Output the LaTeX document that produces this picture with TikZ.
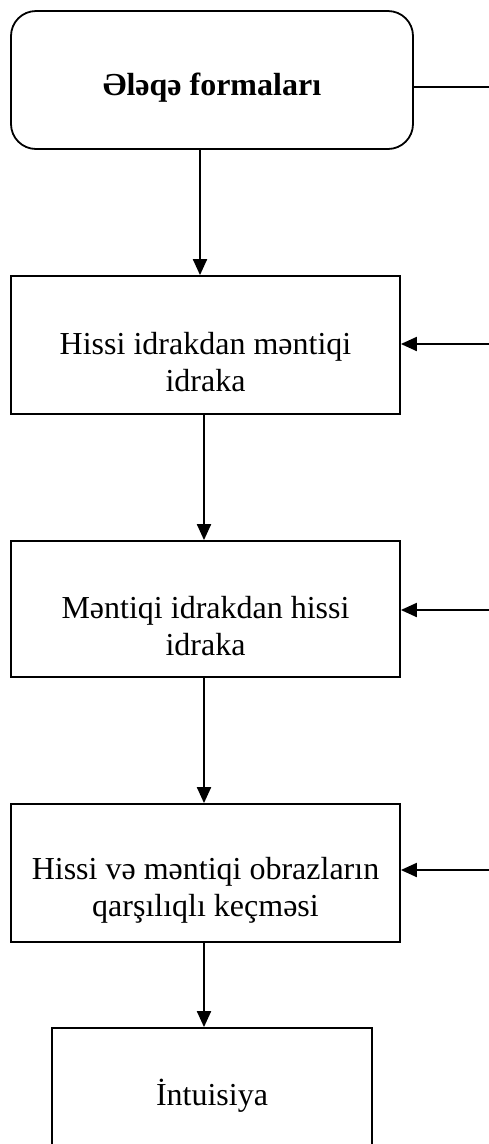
\documentclass[tikz,border=0pt]{standalone}
\usepackage{fontspec}
\setmainfont{Liberation Serif}
\usetikzlibrary{arrows.meta}
\begin{document}
\begin{tikzpicture}[x=1pt,y=-1pt,
  box/.style={draw, line width=1.8pt, minimum width=389pt, minimum height=138pt, inner sep=0pt},
  txt/.style={align=center, font=\fontsize{32}{36.8}\selectfont, inner sep=0pt},
  arr/.style={line width=2pt, -{Triangle[length=16pt,width=14pt]}},
  ln/.style={line width=2pt}]
\useasboundingbox (0,0) rectangle (489,1144);
\node[box, rounded corners=25pt, minimum width=402pt] (top) at (212,80) {};
\node[txt, font=\fontsize{32}{36.8}\selectfont\bfseries] (t1) at ([yshift=-8pt]top.center) {Ələqə formaları};
\node[box] (b2) at (205.5,345) {};
\node[txt] (t2) at ([yshift=-17pt]b2.center) {Hissi idrakdan məntiqi\\idraka};
\node[box, minimum height=136pt] (b3) at (205.5,609) {};
\node[txt] (t3) at ([yshift=-17pt]b3.center) {Məntiqi idrakdan hissi\\idraka};
\node[box] (b4) at (205.5,873) {};
\node[txt] (t4) at ([yshift=-17pt]b4.center) {Hissi və məntiqi obrazların\\qarşılıqlı keçməsi};
\node[box, minimum width=320pt, minimum height=140pt] (b5) at (212,1098) {};
\node[txt] (t5) at ([yshift=2pt]b5.center) {İntuisiya};
\coordinate (c1) at (200,0);
\coordinate (c2) at (204,0);
\coordinate (r1) at (489,87);
\coordinate (r2) at (489,344);
\coordinate (r3) at (489,610);
\coordinate (r4) at (489,870);
\draw[arr] (top.south -| c1) -- (b2.north -| c1);
\draw[arr] (b2.south -| c2) -- (b3.north -| c2);
\draw[arr] (b3.south -| c2) -- (b4.north -| c2);
\draw[arr] (b4.south -| c2) -- (b5.north -| c2);
\draw[ln] (top.east |- r1) -- (r1);
\draw[arr] (r2) -- (b2.east |- r2);
\draw[arr] (r3) -- (b3.east |- r3);
\draw[arr] (r4) -- (b4.east |- r4);
\end{tikzpicture}
\end{document}
